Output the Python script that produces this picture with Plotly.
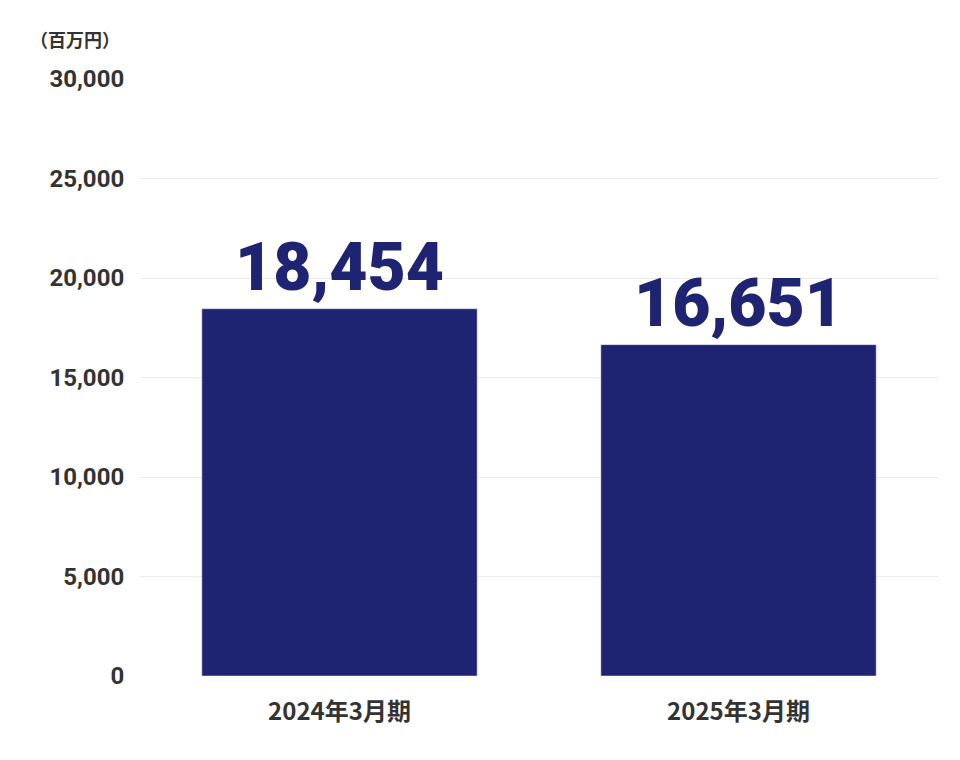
import plotly.graph_objects as go

categories = ["2024年3月期", "2025年3月期"]
values = [18454, 16651]
labels = ["18,454", "16,651"]

fig = go.Figure(go.Bar(
    x=categories, y=values, marker_color="#1e2372", width=0.69,
    text=labels, textposition="outside", cliponaxis=False,
    textfont=dict(size=66, color="#1e2372", family="Roboto", weight=900),
))
fig.update_layout(
    width=960, height=760, margin=dict(l=132, r=30, t=70, b=92),
    plot_bgcolor="white", paper_bgcolor="white", showlegend=False,
    font=dict(family="Noto Sans CJK JP, Roboto", color="#333333"),
    yaxis=dict(range=[0, 30050], dtick=5000, tickformat=",", gridcolor="#ebebeb",
               zeroline=False, tickfont=dict(size=24, color="#333333", family="Roboto", weight="bold"),
               ticks="outside", ticklen=10, tickcolor="white"),
    xaxis=dict(tickfont=dict(size=24, color="#333333", family="Noto Sans CJK JP", weight="bold"),
               ticks="outside", ticklen=14, tickcolor="white"),
    annotations=[dict(text="（百万円）", xref="paper", yref="paper", x=-0.14, y=1.04,
                      xanchor="left", yanchor="bottom", showarrow=False,
                      font=dict(size=18, color="#333333", family="Noto Sans CJK JP", weight="bold"))],
)
fig.write_html("out.html")
